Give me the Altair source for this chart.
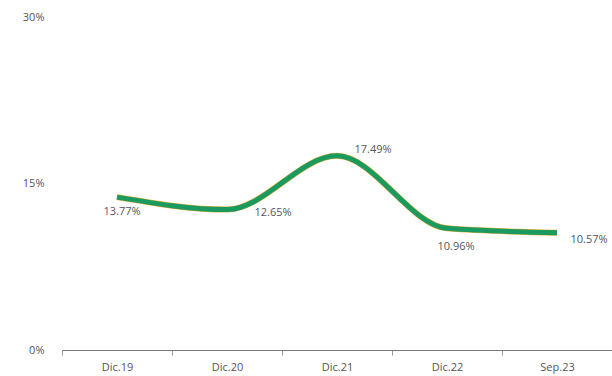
import altair as alt
import pandas as pd

periods = ["Dic.19", "Dic.20", "Dic.21", "Dic.22", "Sep.23"]
values = [13.77, 12.65, 17.49, 10.96, 10.57]
labels = ["13.77%", "12.65%", "17.49%", "10.96%", "10.57%"]

df = pd.DataFrame({"period": periods, "value": values, "label": labels})

FONT = "Open Sans"
x = alt.X("period:N", sort=periods, title=None,
          scale=alt.Scale(paddingInner=0, paddingOuter=0),
          axis=alt.Axis(labelAngle=0, labelFont=FONT, labelFontSize=11, labelColor="#555555",
                        labelFontWeight="normal",
                        domainColor="#777777", tickColor="#999999", tickBand="extent",
                        tickSize=5, labelPadding=6, grid=False))
y = alt.Y("value:Q", title=None,
          scale=alt.Scale(domain=[0, 30]),
          axis=alt.Axis(values=[0, 15, 30], labelExpr="datum.value + '%'", domain=False,
                        ticks=False, grid=False, labelFont=FONT, labelFontSize=11,
                        labelColor="#555555", labelPadding=18))

base = alt.Chart(df)

shadow = base.mark_line(interpolate="monotone", strokeWidth=6, color="#e8b040").encode(x=x, y=y)
line = base.mark_line(interpolate="monotone", strokeWidth=5, color="#1b9a60").encode(x=x, y=y)

offsets = {
    "Dic.19": (5, 15),
    "Dic.20": (46, 3),
    "Dic.21": (36, -6),
    "Dic.22": (9, 19),
    "Sep.23": (32, 7),
}
texts = []
for p, (dx, dy) in offsets.items():
    texts.append(
        base.transform_filter(alt.datum.period == p)
        .mark_text(font=FONT, fontSize=11, color="#555555", dx=dx, dy=dy, align="center")
        .encode(x=x, y=y, text="label:N")
    )

chart = alt.layer(shadow, line, *texts).properties(
    width=550, height=333,
    background="white",
    padding={"left": 62, "top": 17, "right": 0, "bottom": 26},
    autosize=alt.AutoSizeParams(type="none"),
).configure_view(stroke=None, strokeWidth=0)

chart.save("out.html", embed_options={"renderer": "svg", "actions": False})
